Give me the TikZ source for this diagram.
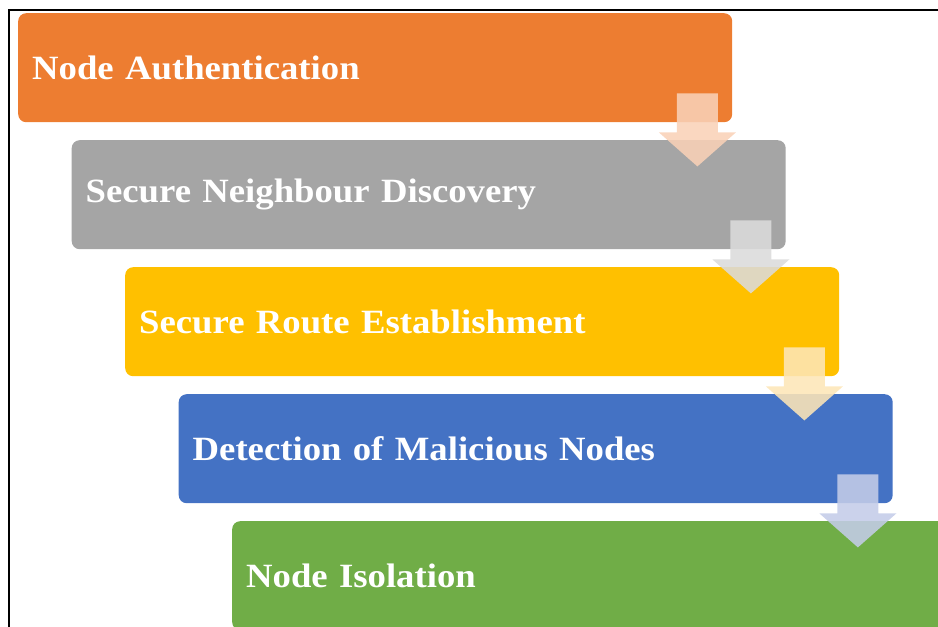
\documentclass[tikz,border=0pt]{standalone}
\usepackage{fontspec}
\setmainfont[FakeStretch=1.08]{Liberation Serif}
\usetikzlibrary{calc}
\definecolor{cOrange}{HTML}{ED7D31}
\definecolor{cGray}{HTML}{A5A5A5}
\definecolor{cYellow}{HTML}{FFC000}
\definecolor{cBlue}{HTML}{4472C4}
\definecolor{cGreen}{HTML}{70AD47}
\definecolor{aBlue}{HTML}{C4CCE8}
\tikzset{
  stagebox/.style={rounded corners=8pt, inner xsep=14pt, inner ysep=0pt,
    text width=686pt, minimum height=109pt, align=left, anchor=north west,
    font=\fontsize{34}{37}\selectfont\bfseries, text=white},
  flowarrow/.style={fill opacity=0.88}
}
% draws a downward block arrow under the bottom-right corner of box #1
\newcommand{\stagearrow}[2]{%
  \fill[flowarrow, #2]
    ($(#1.south east)+(-55.5,-29)$) -- ($(#1.south east)+(-14.5,-29)$) --
    ($(#1.south east)+(-14.5,10)$) -- ($(#1.south east)+(3.5,10)$) --
    ($(#1.south east)+(-35,44)$) -- ($(#1.south east)+(-73.5,10)$) --
    ($(#1.south east)+(-55.5,10)$) -- cycle;}
\begin{document}
\begin{tikzpicture}[x=1pt,y=-1pt]
\useasboundingbox (0,0) rectangle (938,627);
\clip (0,0) rectangle (938,627);
% frame
\draw[line width=2pt] (9,640) -- (9,10) -- (950,10);
% stages
\node[stagebox, fill=cOrange] (s1) at (18,13) {Node Authentication};
\node[stagebox, fill=cGray] (s2) at (71.5,140) {Secure Neighbour Discovery};
\node[stagebox, fill=cYellow] (s3) at (125,267) {Secure Route Establishment};
\node[stagebox, fill=cBlue] (s4) at (178.5,394) {Detection of Malicious Nodes};
\node[stagebox, fill=cGreen] (s5) at (232,521) {Node Isolation};
% connectors
\stagearrow{s1}{fill=cOrange!35}
\stagearrow{s2}{fill=cGray!40}
\stagearrow{s3}{fill=cYellow!70!cOrange!30!white}
\stagearrow{s4}{fill=aBlue}
\end{tikzpicture}
\end{document}
